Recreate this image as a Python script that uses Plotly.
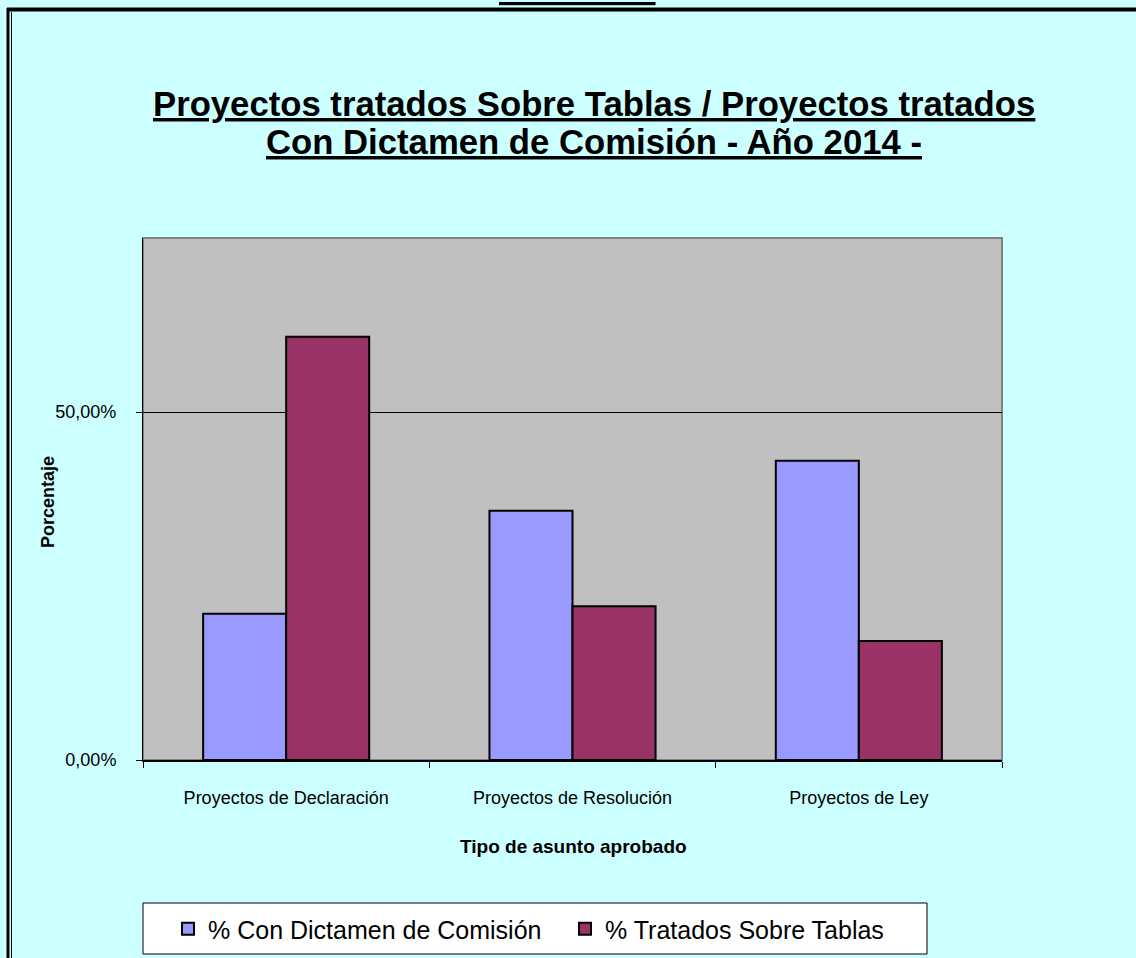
import plotly.graph_objects as go

categorias = ["Proyectos de Declaración", "Proyectos de Resolución", "Proyectos de Ley"]
con_dictamen = [0.21, 0.358, 0.43]
sobre_tablas = [0.608, 0.221, 0.171]
serie_nombres = ["% Con Dictamen de Comisión", "% Tratados Sobre Tablas"]
y_ticks = [0, 0.5]

W, H = 1136, 958
L, R, T, B = 143, 1002, 238, 760


def px_x(px):
    return (px - L) / (R - L)


def px_y(py):
    return (B - py) / (B - T)


fig = go.Figure()
fig.add_trace(go.Bar(name=serie_nombres[0], x=categorias, y=con_dictamen,
                     marker=dict(color="#9999FF", line=dict(color="black", width=2))))
fig.add_trace(go.Bar(name=serie_nombres[1], x=categorias, y=sobre_tablas,
                     marker=dict(color="#993366", line=dict(color="black", width=2))))

fig.update_layout(
    width=W, height=H,
    margin=dict(l=L, r=W - R, t=T, b=H - B, autoexpand=False),
    paper_bgcolor="#CCFFFF",
    plot_bgcolor="#C0C0C0",
    separators=",.",
    barmode="group", bargap=0.42, bargroupgap=0,
    font=dict(family="Arial, Liberation Sans", color="black", size=18),
    showlegend=True,
    legend=dict(orientation="h", x=px_x(168), xanchor="left", y=px_y(929), yanchor="middle",
                bgcolor="rgba(0,0,0,0)", borderwidth=0, font=dict(size=25),
                entrywidth=352, entrywidthmode="pixels", traceorder="normal"),
)

fig.update_yaxes(range=[0, 0.75], tickvals=y_ticks, tickformat=".2%",
                 showgrid=True, gridcolor="black", gridwidth=1, zeroline=False,
                 showline=True, linecolor="black", linewidth=1,
                 ticks="outside", ticklen=6, tickcolor="black", ticklabelstandoff=16)
fig.update_xaxes(showline=True, linecolor="black", linewidth=2,
                 ticks="outside", ticklen=6, tickcolor="black", tickson="boundaries",
                 ticklabelstandoff=20)

# plot area frame, outer page frame, legend box
fig.add_shape(type="rect", xref="paper", yref="paper", x0=0, x1=1, y0=0, y1=1,
              line=dict(color="#808080", width=2), layer="below")
fig.add_shape(type="line", xref="paper", yref="paper", x0=px_x(7), x1=px_x(1140),
              y0=px_y(9.5), y1=px_y(9.5), line=dict(color="black", width=4))
fig.add_shape(type="line", xref="paper", yref="paper", x0=px_x(8), x1=px_x(8),
              y0=px_y(8), y1=px_y(965), line=dict(color="black", width=3))
fig.add_shape(type="line", xref="paper", yref="paper", x0=px_x(11.5), x1=px_x(11.5),
              y0=px_y(12), y1=px_y(965), line=dict(color="black", width=1))
fig.add_shape(type="rect", xref="paper", yref="paper", x0=px_x(143), x1=px_x(927),
              y0=px_y(903), y1=px_y(954), line=dict(color="black", width=1),
              fillcolor="white", layer="below")

# titles
fig.add_annotation(text="<b><u>Gráfico 16</u></b>", xref="paper", yref="paper",
                   x=px_x(577), y=px_y(-11), xanchor="center", yanchor="middle",
                   showarrow=False, font=dict(size=32))
fig.add_annotation(text="<b><u>Proyectos tratados Sobre Tablas / Proyectos tratados</u></b>",
                   xref="paper", yref="paper", x=px_x(594), y=px_y(104),
                   xanchor="center", yanchor="middle", showarrow=False, font=dict(size=34.7))
fig.add_annotation(text="<b><u>Con Dictamen de Comisión - Año 2014 -</u></b>",
                   xref="paper", yref="paper", x=px_x(594), y=px_y(142),
                   xanchor="center", yanchor="middle", showarrow=False, font=dict(size=34.7))
fig.add_annotation(text="<b>Porcentaje</b>", xref="paper", yref="paper",
                   x=px_x(48), y=px_y(502), xanchor="center", yanchor="middle",
                   textangle=-90, showarrow=False, font=dict(size=18))
fig.add_annotation(text="<b>Tipo de asunto aprobado</b>", xref="paper", yref="paper",
                   x=px_x(573), y=px_y(846), xanchor="center", yanchor="middle",
                   showarrow=False, font=dict(size=19))

fig.write_html("out.html", config={"displayModeBar": False},
               post_script="document.body.style.margin='0';")
